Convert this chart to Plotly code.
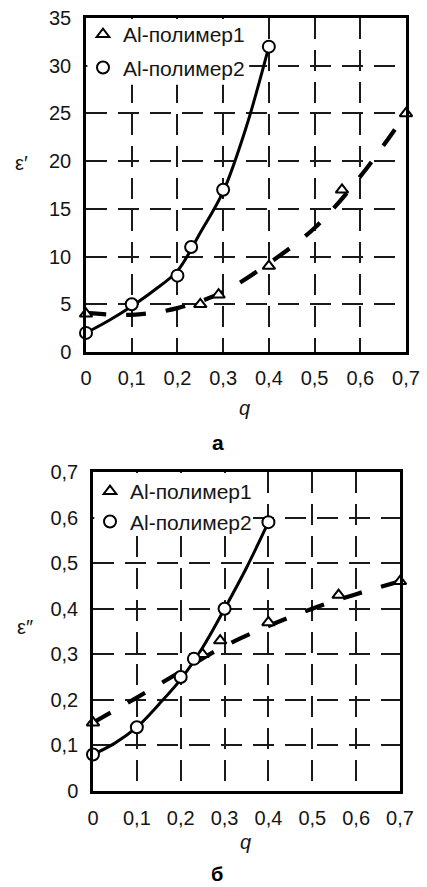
import plotly.graph_objects as go

# ---------------- data ----------------
# panel а : ε' vs q
q_p1_a = [0, 0.25, 0.29, 0.40, 0.56, 0.70]
eps_p1_a = [4, 5, 6, 9, 17, 25]
q_p2_a = [0, 0.10, 0.20, 0.23, 0.30, 0.40]
eps_p2_a = [2, 5, 8, 11, 17, 32]
# fitted curves
fit_q_p1_a = [0, 0.1, 0.2, 0.3, 0.4, 0.5, 0.6, 0.7]
fit_eps_p1_a = [4.1, 3.9, 4.6, 6.3, 9.3, 13.0, 18.4, 25.0]
fit_q_p2_a = [0, 0.05, 0.1, 0.15, 0.2, 0.25, 0.3, 0.35, 0.4]
fit_eps_p2_a = [2.0, 3.3, 4.8, 6.5, 8.5, 12.5, 16.8, 23.5, 32.0]

# panel б : ε'' vs q
q_p1_b = [0, 0.25, 0.29, 0.40, 0.56, 0.70]
eps_p1_b = [0.15, 0.30, 0.33, 0.37, 0.43, 0.46]
q_p2_b = [0, 0.10, 0.20, 0.23, 0.30, 0.40]
eps_p2_b = [0.08, 0.14, 0.25, 0.29, 0.40, 0.59]
fit_q_p1_b = [0, 0.1, 0.2, 0.3, 0.4, 0.5, 0.6, 0.7]
fit_eps_p1_b = [0.15, 0.205, 0.262, 0.318, 0.362, 0.400, 0.432, 0.46]
fit_q_p2_b = [0, 0.05, 0.1, 0.15, 0.2, 0.25, 0.3, 0.35, 0.4]
fit_eps_p2_b = [0.08, 0.105, 0.14, 0.19, 0.245, 0.315, 0.40, 0.49, 0.59]

series_names = ["Al-полимер1", "Al-полимер2"]
x_ticks = [0, 0.1, 0.2, 0.3, 0.4, 0.5, 0.6, 0.7]
x_tick_text = ["0", "0,1", "0,2", "0,3", "0,4", "0,5", "0,6", "0,7"]
y_ticks_a = [0, 5, 10, 15, 20, 25, 30, 35]
y_tick_text_a = ["0", "5", "10", "15", "20", "25", "30", "35"]
y_ticks_b = [0, 0.1, 0.2, 0.3, 0.4, 0.5, 0.6, 0.7]
y_tick_text_b = ["0", "0,1", "0,2", "0,3", "0,4", "0,5", "0,6", "0,7"]

# ---------------- figure ----------------
W, H = 427, 887
FONT = "Liberation Sans, Arial, sans-serif"
TXT = "#151515"
fig = go.Figure()


def px_x(p):
    return p / W


def px_y(p):
    return 1 - p / H


def add_panel(xa, ya, legend, fq1, fe1, fq2, fe2, q1, e1, q2, e2):
    fig.add_trace(go.Scatter(x=fq1, y=fe1, mode="lines", xaxis=xa, yaxis=ya,
                             line=dict(color="black", width=4.2, dash="20px,20px", shape="spline"),
                             showlegend=False, hoverinfo="skip", cliponaxis=False))
    fig.add_trace(go.Scatter(x=fq2, y=fe2, mode="lines", xaxis=xa, yaxis=ya,
                             line=dict(color="black", width=3, shape="spline"),
                             showlegend=False, hoverinfo="skip", cliponaxis=False))
    fig.add_trace(go.Scatter(x=q1, y=e1, mode="markers", xaxis=xa, yaxis=ya,
                             name=series_names[0], legend=legend, legendgroup=legend + "1",
                             marker=dict(symbol="triangle-up", size=11, color="white",
                                         line=dict(color="black", width=2)),
                             cliponaxis=False))
    fig.add_trace(go.Scatter(x=q2, y=e2, mode="markers", xaxis=xa, yaxis=ya,
                             name=series_names[1], legend=legend, legendgroup=legend + "2",
                             marker=dict(symbol="circle", size=12, color="white",
                                         line=dict(color="black", width=2)),
                             cliponaxis=False))


add_panel("x", "y", "legend", fit_q_p1_a, fit_eps_p1_a, fit_q_p2_a, fit_eps_p2_a,
          q_p1_a, eps_p1_a, q_p2_a, eps_p2_a)
add_panel("x2", "y2", "legend2", fit_q_p1_b, fit_eps_p1_b, fit_q_p2_b, fit_eps_p2_b,
          q_p1_b, eps_p1_b, q_p2_b, eps_p2_b)

tickfont = dict(family=FONT, size=20, color=TXT)
common_axis = dict(showline=True, mirror=True, linecolor="black", linewidth=2.5,
                   showgrid=True, gridcolor="#1a1a1a", gridwidth=2.4, griddash="21px,11px",
                   zeroline=False, ticks="outside", tickcolor="rgba(0,0,0,0)",
                   tickfont=tickfont, fixedrange=True, automargin=False)
legend_font = dict(family=FONT, size=21, color=TXT)

fig.update_layout(
    width=W, height=H,
    margin=dict(l=0, r=0, t=0, b=0, autoexpand=False),
    paper_bgcolor="white", plot_bgcolor="white",
    font=dict(family=FONT, size=20, color=TXT),
    xaxis=dict(domain=[px_x(86), px_x(406)], range=[0, 0.7], anchor="y",
               tickvals=x_ticks, ticktext=x_tick_text, ticklen=6, **common_axis),
    yaxis=dict(domain=[px_y(352), px_y(18)], range=[0, 35], anchor="x",
               tickvals=y_ticks_a, ticktext=y_tick_text_a, ticklen=8, **common_axis),
    xaxis2=dict(domain=[px_x(93), px_x(400)], range=[0, 0.7], anchor="y2",
                tickvals=x_ticks, ticktext=x_tick_text, ticklen=7, **common_axis),
    yaxis2=dict(domain=[px_y(791), px_y(472)], range=[0, 0.7], anchor="x2",
                tickvals=y_ticks_b, ticktext=y_tick_text_b, ticklen=8, **common_axis),
    legend=dict(x=px_x(83), y=px_y(14), xanchor="left", yanchor="top",
                bgcolor="rgba(0,0,0,0)", font=legend_font,
                tracegroupgap=3, itemclick=False),
    legend2=dict(x=px_x(90), y=px_y(471), xanchor="left", yanchor="top",
                 bgcolor="rgba(0,0,0,0)", font=legend_font,
                 tracegroupgap=0, itemclick=False),
    showlegend=True,
)

# white patches behind the legends (hide the grid there)
fig.add_shape(type="rect", xref="x", yref="y", x0=0.003, x1=0.357, y0=28, y1=34.9,
              fillcolor="white", line=dict(width=0), layer="between")
fig.add_shape(type="rect", xref="x2", yref="y2", x0=0.003, x1=0.355, y0=0.56, y1=0.698,
              fillcolor="white", line=dict(width=0), layer="between")

ann_font = dict(family=FONT, size=20, color=TXT)


def label(xp, yp, text, font, yanchor="middle"):
    fig.add_annotation(xref="paper", yref="paper", x=px_x(xp), y=px_y(yp), text=text,
                       showarrow=False, font=font, xanchor="center", yanchor=yanchor,
                       borderpad=0)


label(21, 163, "ε′", ann_font)
label(25, 627, "ε″", ann_font)
label(244, 408, "<i>q</i>", ann_font)
label(245, 842, "<i>q</i>", ann_font)
label(218, 443, "<b>а</b>", dict(family=FONT, size=21, color="black"))
label(217, 886, "<b>б</b>", dict(family=FONT, size=20, color="black"), yanchor="bottom")

fig.write_html("out.html", config={"displayModeBar": False},
               post_script="document.body.style.margin='0px';"
                           "document.body.style.overflow='hidden';")
